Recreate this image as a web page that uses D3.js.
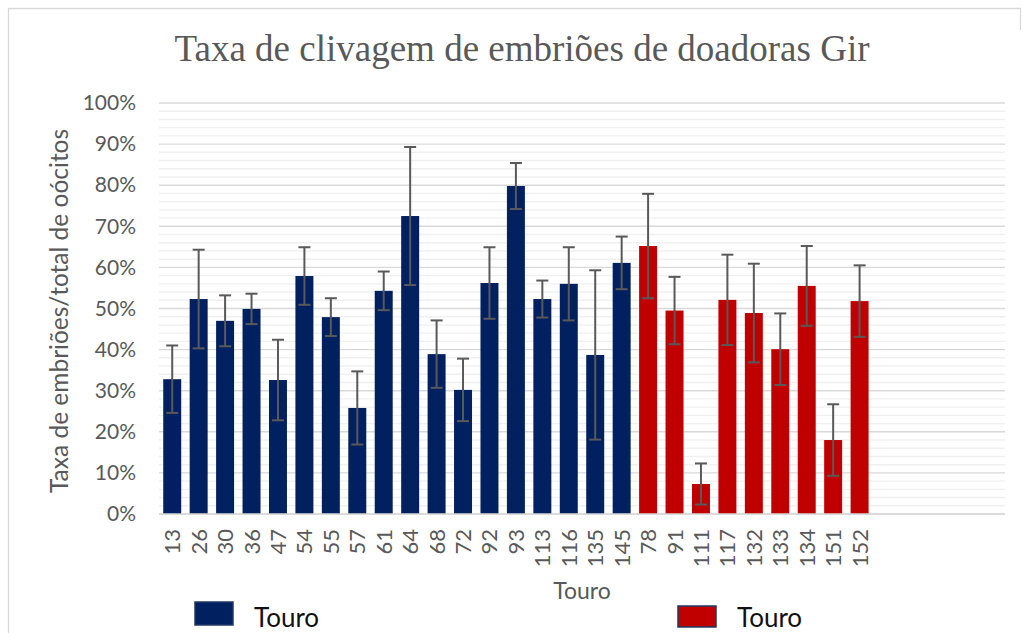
<!DOCTYPE html>
<head>
    <meta charset="utf-8">
    <title>Taxa de clivagem de embriões de doadoras Gir</title>
    <style>
        html, body {
            margin: 0;
            background: #fff;
        }
        svg text {
            font-family: Lato, "Open Sans", sans-serif;
        }
        .title {
            font-family: "Liberation Serif", "Times New Roman", serif !important;
        }
    </style>
</head>
<body>
<script src="https://cdn.jsdelivr.net/npm/d3@7"></script>
<script>

    // touros (doadores de sêmen), grupo azul e grupo vermelho
    const bullsBlue = ["13", "26", "30", "36", "47", "54", "55", "57", "61", "64", "68", "72", "92", "93", "113", "116", "135", "145"];
    const bullsRed = ["78", "91", "111", "117", "132", "133", "134", "151", "152"];

    // taxa de clivagem (%) e erro (+/- %)
    const rateBlue = [32.8, 52.3, 47.0, 49.9, 32.6, 57.9, 47.9, 25.8, 54.3, 72.5, 38.9, 30.2, 56.2, 79.8, 52.3, 56.0, 38.7, 61.1];
    const errBlue = [8.2, 12.0, 6.2, 3.7, 9.8, 7.0, 4.6, 8.9, 4.7, 16.8, 8.2, 7.6, 8.7, 5.6, 4.5, 8.9, 20.6, 6.4];
    const rateRed = [65.2, 49.5, 7.3, 52.1, 48.9, 40.1, 55.5, 18.0, 51.8];
    const errRed = [12.7, 8.2, 5.0, 11.0, 12.0, 8.7, 9.7, 8.7, 8.7];

    const emptySlots = 5;   // categorias vazias no fim do eixo
    const yTicks = [0, 10, 20, 30, 40, 50, 60, 70, 80, 90, 100];

    const colorBlue = "#002060",
        colorRed = "#c00000";

    const width = 1023,
        height = 633;

    const margin = {top: 103, right: 18, bottom: 119, left: 159};

    const rows = bullsBlue.map((b, i) => ({bull: b, rate: rateBlue[i], err: errBlue[i], color: colorBlue}))
        .concat(bullsRed.map((b, i) => ({bull: b, rate: rateRed[i], err: errRed[i], color: colorRed})));

    const slots = d3.range(rows.length + emptySlots);

    const svg = d3.select("body").append("svg")
        .attr("width", width)
        .attr("height", height);

    // moldura
    svg.append("path")
        .attr("d", `M8.5,${height + 5}V8.5H1020.5V30`)
        .attr("fill", "none")
        .attr("stroke", "#d9d9d9")
        .attr("stroke-width", 1.3);

    const x = d3.scaleBand()
        .domain(slots)
        .range([margin.left, width - margin.right])
        .paddingInner(0.32)
        .paddingOuter(0.16);

    const y = d3.scaleLinear()
        .domain([0, 100])
        .range([height - margin.bottom, margin.top]);

    // linhas de grade (menores a cada 2%)
    svg.append("g")
        .selectAll("line")
        .data(d3.range(0, 101, 2).filter(v => v % 10 !== 0))
        .enter().append("line")
        .attr("x1", margin.left)
        .attr("x2", width - margin.right)
        .attr("y1", d => y(d))
        .attr("y2", d => y(d))
        .attr("stroke", "#f0f0f0")
        .attr("stroke-width", 1.4);

    svg.append("g")
        .selectAll("line")
        .data(yTicks)
        .enter().append("line")
        .attr("x1", margin.left)
        .attr("x2", width - margin.right)
        .attr("y1", d => y(d))
        .attr("y2", d => y(d))
        .attr("stroke", "#d9d9d9")
        .attr("stroke-width", 1.4);

    // eixo y
    const yAxis = svg.append("g")
        .attr("transform", `translate(${margin.left - 23},0)`)
        .call(d3.axisLeft(y).tickValues(yTicks).tickSize(0).tickPadding(0).tickFormat(d => d + "%"));
    yAxis.select(".domain").remove();
    yAxis.selectAll("text")
        .attr("fill", "#595959")
        .style("font-size", "21px");

    // barras
    svg.append("g")
        .selectAll("rect")
        .data(rows)
        .enter().append("rect")
        .attr("x", (d, i) => x(i))
        .attr("width", x.bandwidth())
        .attr("y", d => y(d.rate))
        .attr("height", d => y(0) - y(d.rate))
        .attr("fill", d => d.color);

    // barras de erro
    const eb = svg.append("g")
        .attr("stroke", "#595959")
        .attr("stroke-width", 2)
        .selectAll("g")
        .data(rows)
        .enter().append("g")
        .attr("transform", (d, i) => `translate(${x(i) + x.bandwidth() / 2},0)`);
    eb.append("line")
        .attr("y1", d => y(d.rate + d.err))
        .attr("y2", d => y(d.rate - d.err));
    eb.append("line")
        .attr("x1", -6).attr("x2", 6)
        .attr("y1", d => y(d.rate + d.err))
        .attr("y2", d => y(d.rate + d.err));
    eb.append("line")
        .attr("x1", -6).attr("x2", 6)
        .attr("y1", d => y(d.rate - d.err))
        .attr("y2", d => y(d.rate - d.err));

    // linha base
    svg.append("line")
        .attr("x1", margin.left)
        .attr("x2", width - margin.right)
        .attr("y1", y(0))
        .attr("y2", y(0))
        .attr("stroke", "#d9d9d9")
        .attr("stroke-width", 1.6);

    // rótulos do eixo x
    svg.append("g")
        .selectAll("text")
        .data(rows)
        .enter().append("text")
        .attr("transform", (d, i) => `translate(${x(i) + x.bandwidth() / 2 + 8},529) rotate(-90)`)
        .attr("text-anchor", "end")
        .attr("fill", "#595959")
        .style("font-size", "22px")
        .text(d => d.bull);

    // títulos
    svg.append("text")
        .attr("class", "title")
        .attr("x", 522)
        .attr("y", 61)
        .attr("text-anchor", "middle")
        .attr("fill", "#595959")
        .style("font-size", "37px")
        .text("Taxa de clivagem de embriões de doadoras Gir");

    svg.append("text")
        .attr("transform", "translate(68,311) rotate(-90)")
        .attr("text-anchor", "middle")
        .attr("fill", "#595959")
        .style("font-size", "24.5px")
        .text("Taxa de embriões/total de oócitos");

    svg.append("text")
        .attr("x", 582)
        .attr("y", 599)
        .attr("text-anchor", "middle")
        .attr("fill", "#595959")
        .style("font-size", "23px")
        .text("Touro");

    // legenda
    const legendItems = [
        {label: "Touro", color: colorBlue, x: 195, y: 602, h: 23},
        {label: "Touro", color: colorRed, x: 678, y: 606, h: 21}
    ];
    const lg = svg.append("g")
        .selectAll("g")
        .data(legendItems)
        .enter().append("g");
    lg.append("rect")
        .attr("x", d => d.x)
        .attr("y", d => d.y)
        .attr("width", 38)
        .attr("height", d => d.h)
        .attr("fill", d => d.color)
        .attr("stroke", "#203864")
        .attr("stroke-width", 1.5);
    lg.append("text")
        .attr("x", d => d.x + 59)
        .attr("y", 627)
        .attr("fill", "#111")
        .style("font-size", "26px")
        .text(d => d.label);

</script>
</body>
